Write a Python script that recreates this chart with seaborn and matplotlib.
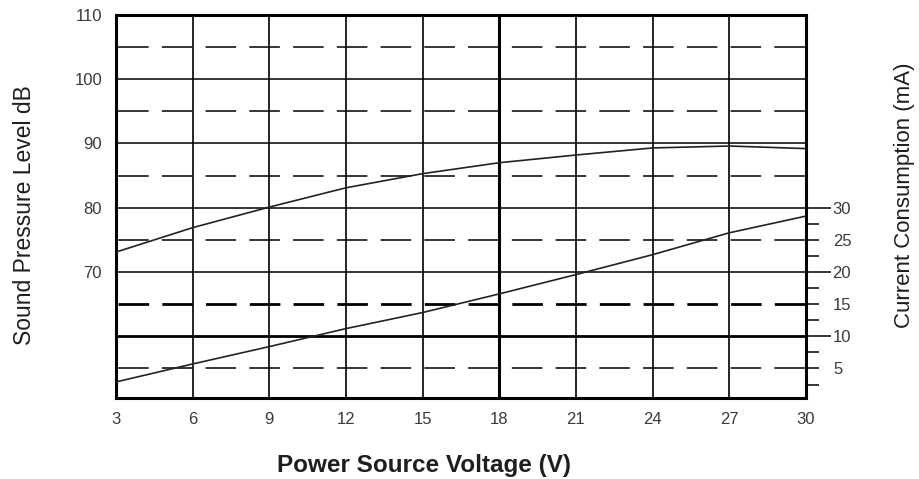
import numpy as np
import pandas as pd
import matplotlib
matplotlib.use("Agg")
import matplotlib.pyplot as plt
import seaborn as sns

# Values
voltage = [3, 6, 9, 12, 15, 18, 21, 24, 27, 30]
spl_db = [73.1, 76.9, 80.1, 83.1, 85.3, 87.0, 88.2, 89.3, 89.6, 89.2]
current_ma = [2.9, 5.7, 8.4, 11.2, 13.7, 16.6, 19.6, 22.7, 26.1, 28.7]

x_ticks = [3, 6, 9, 12, 15, 18, 21, 24, 27, 30]
spl_major = [60, 70, 80, 90, 100, 110]
spl_major_labels = ["", "70", "80", "90", "100", "110"]
spl_dashed = [55, 65, 75, 85, 95, 105]
cur_long_ticks = [10, 20, 30]
cur_short_ticks = [5, 15, 25]
cur_minor_ticks = [2.5, 7.5, 12.5, 17.5, 22.5, 27.5]

sns.set_style("white")
plt.rcParams["font.family"] = ["Liberation Sans", "DejaVu Sans"]
plt.rcParams["lines.scale_dashes"] = False

df = pd.DataFrame({"voltage": voltage, "spl": spl_db, "current": current_ma})
# current axis is offset by 50 from the dB axis
df["current_on_db"] = df["current"] + 50

fig = plt.figure(figsize=(9.2, 4.79), dpi=100)
ax = fig.add_axes([0.126, 0.169, 0.750, 0.800])

ymin, ymax = 50.4, 110
ax.set_xlim(3, 30)
ax.set_ylim(ymin, ymax)

tick_col = "#3a3a3a"
label_col = "#1e1e1e"

# grid
for v in x_ticks[1:-1]:
    ax.axvline(v, color="black", lw=2.2 if v == 18 else 1.2, zorder=1)
for v in spl_major[:-1]:
    ax.axhline(v, color="black", lw=2.0 if v == 60 else 1.1, zorder=1)
for v in spl_dashed:
    ax.axhline(v, color="black", lw=2.0 if v == 65 else 1.1,
               ls=(-1.5, (22, 9.5)), zorder=1)

sns.lineplot(data=df, x="voltage", y="spl", ax=ax, color="#222222", lw=1.2, zorder=3)
sns.lineplot(data=df, x="voltage", y="current_on_db", ax=ax, color="#222222", lw=1.2, zorder=3)

ax.set_xticks(x_ticks)
ax.set_yticks(spl_major)
ax.set_yticklabels(spl_major_labels)
ax.tick_params(axis="both", length=0, labelsize=12, colors=tick_col)
ax.tick_params(axis="x", pad=10)
ax.tick_params(axis="y", pad=10)
for s in ax.spines.values():
    s.set_linewidth(2.2)
    s.set_color("black")

ax.set_xlabel("Power Source Voltage (V)", fontsize=17.5, fontweight="bold",
              color=label_col)
ax.xaxis.set_label_coords(0.446, -0.145)
ax.set_ylabel("Sound Pressure Level dB", fontsize=16.5, color=label_col)
ax.yaxis.set_label_coords(-0.116, 0.478)

# right axis: current consumption
ax2 = ax.twinx()
ax2.set_ylim(ymin - 50, ymax - 50)
ax2.set_yticks(cur_long_ticks)
ax2.set_yticks(cur_minor_ticks, minor=True)
ax2.tick_params(axis="y", which="major", direction="out", length=18, width=1.1,
                pad=1, labelsize=12, colors="black", labelcolor=tick_col)
ax2.tick_params(axis="y", which="minor", direction="out", length=9.5, width=1.1,
                colors="black")
for s in ax2.spines.values():
    s.set_visible(False)
ax2.set_ylabel("Current Consumption (mA)", fontsize=16, color=label_col)
ax2.yaxis.set_label_coords(1.127, 0.53)

ax3 = ax.twinx()
ax3.set_ylim(ymin - 50, ymax - 50)
ax3.set_yticks(cur_short_ticks)
ax3.tick_params(axis="y", which="major", direction="out", length=9.5, width=1.1,
                pad=10, labelsize=12, colors="black", labelcolor=tick_col)
for s in ax3.spines.values():
    s.set_visible(False)

fig.savefig("out.png", dpi=100)
